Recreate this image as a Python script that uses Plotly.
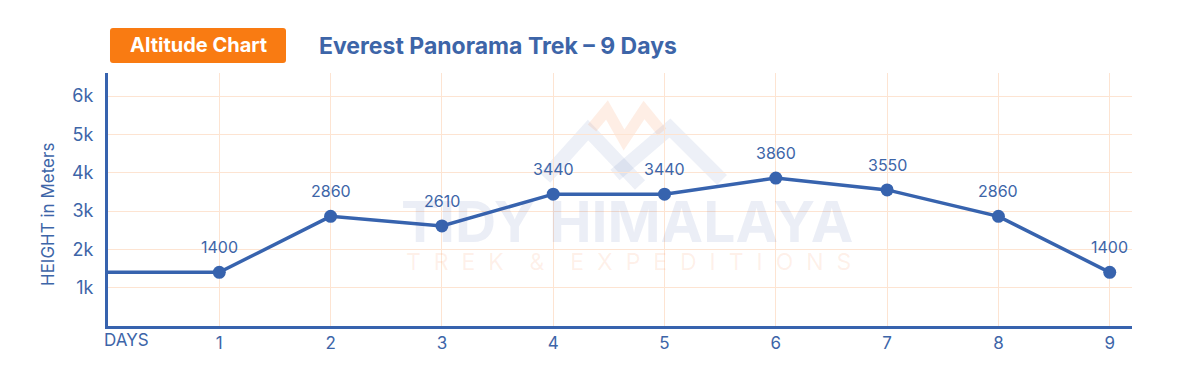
import plotly.graph_objects as go

days = [1, 2, 3, 4, 5, 6, 7, 8, 9]
heights = [1400, 2860, 2610, 3440, 3440, 3860, 3550, 2860, 1400]
y_ticks = [1000, 2000, 3000, 4000, 5000, 6000]
y_tick_labels = ["1k", "2k", "3k", "4k", "5k", "6k"]
x_tick_labels = [str(d) for d in days]

BLUE = "#3763ae"
TXT = "#3d65a8"
GRID = "#fde4d2"
FONT = "Inter"

W, H = 1200, 374
L, R, T, B = 108, 1132, 73, 326

def px(x):
    return (x - L) / (R - L)

def py(y):
    return (B - y) / (B - T)

fig = go.Figure()

# line including lead-in from the axis
fig.add_trace(go.Scatter(
    x=[0] + days, y=[heights[0]] + heights, mode="lines",
    line=dict(color=BLUE, width=3.5), hoverinfo="skip", showlegend=False))
fig.add_trace(go.Scatter(
    x=days, y=heights, mode="markers",
    marker=dict(color=BLUE, size=13), showlegend=False))

annotations = []
for d, h in zip(days, heights):
    annotations.append(dict(x=d, y=h, xref="x", yref="y", text=str(h), showarrow=False,
                            xanchor="center", yanchor="middle",
                            yshift=25, font=dict(family=FONT, size=16, color=TXT)))

def ann(x, y, text, size, color, **kw):
    d = dict(x=px(x), y=py(y), xref="paper", yref="paper", text=text, showarrow=False,
             xanchor="center", yanchor="middle", font=dict(family=FONT, size=size, color=color))
    d.update(kw)
    annotations.append(d)

# watermark text
ann(627, 222, "<b>TIDY HIMALAYA</b>", 57, "rgba(60,90,170,0.10)")
ann(628, 262, "T  R  E  K    &    E  X  P  E  D  I  T  I  O  N  S", 23, "rgba(250,140,80,0.13)")

# title, badge, axis title, DAYS
ann(198, 45, "<b>Altitude Chart</b>", 20, "white")
ann(317, 46, "<b>Everest Panorama Trek – 9 Days</b>", 23, TXT, xanchor="left")
ann(48, 215, "HEIGHT in Meters", 17, TXT, textangle=-90)
ann(126, 340, "DAYS", 17, TXT)

def path(points):
    return "M " + " L ".join(f"{px(x):.5f},{py(y):.5f}" for x, y in points)

def rounded_rect(x0, y0, x1, y1, r):
    pts = []
    s = (f"M {px(x0 + r):.5f},{py(y0):.5f} L {px(x1 - r):.5f},{py(y0):.5f} "
         f"Q {px(x1):.5f},{py(y0):.5f} {px(x1):.5f},{py(y0 + r):.5f} "
         f"L {px(x1):.5f},{py(y1 - r):.5f} Q {px(x1):.5f},{py(y1):.5f} {px(x1 - r):.5f},{py(y1):.5f} "
         f"L {px(x0 + r):.5f},{py(y1):.5f} Q {px(x0):.5f},{py(y1):.5f} {px(x0):.5f},{py(y1 - r):.5f} "
         f"L {px(x0):.5f},{py(y0 + r):.5f} Q {px(x0):.5f},{py(y0):.5f} {px(x0 + r):.5f},{py(y0):.5f} Z")
    return s

shapes = [
    dict(type="path", xref="paper", yref="paper", path=rounded_rect(110, 28, 286, 63, 3),
         fillcolor="#f97b12", line=dict(width=0), layer="below"),
    # logo watermark
    dict(type="path", xref="paper", yref="paper", path=path([(545, 178), (588, 130), (640, 185)]),
         line=dict(color="rgba(60,90,170,0.09)", width=14), layer="below"),
    dict(type="path", xref="paper", yref="paper", path=path([(615, 175), (670, 128), (722, 180)]),
         line=dict(color="rgba(60,90,170,0.09)", width=14), layer="below"),
    dict(type="path", xref="paper", yref="paper", path=path([(592, 128), (607, 110), (624, 140), (644, 110), (662, 132)]),
         line=dict(color="rgba(250,140,80,0.15)", width=11), layer="below"),
]

fig.update_layout(
    width=W, height=H,
    margin=dict(l=L, r=W - R, t=T, b=H - B),
    paper_bgcolor="white", plot_bgcolor="white",
    annotations=annotations, shapes=shapes,
    xaxis=dict(range=[0, 9.2], tickvals=days, ticktext=x_tick_labels,
               showgrid=True, gridcolor=GRID, gridwidth=1, zeroline=False,
               showline=True, linecolor=BLUE, linewidth=3,
               tickfont=dict(family=FONT, size=17, color=TXT), ticks=""),
    yaxis=dict(range=[0, 6600], tickvals=y_ticks, ticktext=y_tick_labels,
               showgrid=True, gridcolor=GRID, gridwidth=1, zeroline=False,
               showline=True, linecolor=BLUE, linewidth=3,
               tickfont=dict(family=FONT, size=18, color=TXT), ticks="",
               ticklabelstandoff=8),
)

fig.write_html("out.html")
